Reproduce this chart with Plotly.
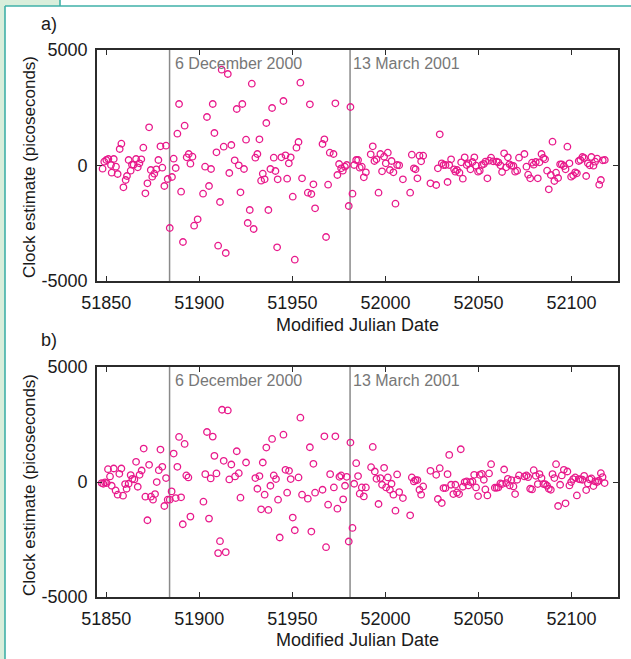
import plotly.graph_objects as go

# --- data: clock estimates (ps) versus Modified Julian Date ---
mjd_a = [51848.0, 51848.9, 51850.0, 51851.1, 51852.5, 51852.9, 51854.0, 51855.2, 51856.1, 51857.2,
         51858.1, 51859.2, 51860.4, 51861.1, 51862.0, 51863.1, 51863.8, 51864.7, 51866.0, 51866.9,
         51867.8, 51868.8, 51869.9, 51871.0, 51872.1, 51873.0, 51873.9, 51874.7, 51875.8, 51876.9,
         51878.0, 51879.1, 51880.1, 51881.2, 51882.1, 51883.0, 51884.1, 51885.3, 51886.2, 51887.3,
         51888.2, 51889.1, 51890.2, 51891.2, 51892.1, 51893.2, 51894.3, 51895.2, 51896.3, 51897.2,
         51899.1, 51902.0, 51903.1, 51904.1, 51905.2, 51906.3, 51907.2, 51908.1, 51909.2, 51910.1,
         51911.1, 51912.0, 51913.1, 51914.2, 51915.3, 51916.1, 51917.2, 51919.0, 51920.1, 51921.2,
         51922.1, 51923.1, 51924.0, 51925.1, 51926.0, 51927.1, 51928.2, 51929.2, 51930.1, 51931.2,
         51932.3, 51933.2, 51934.1, 51935.1, 51936.0, 51937.1, 51938.2, 51939.1, 51940.0, 51940.9,
         51941.8, 51942.1, 51944.1, 51945.2, 51946.3, 51947.2, 51948.1, 51949.1, 51950.2, 51951.3,
         51952.2, 51953.3, 51954.3, 51955.2, 51958.3, 51959.4, 51960.2, 51961.3, 51962.2, 51966.2,
         51967.2, 51968.1, 51969.2, 51970.1, 51972.1, 51973.1, 51974.2, 51975.1, 51976.2, 51977.1,
         51978.2, 51979.2, 51980.3, 51981.2, 51982.3, 51983.2, 51984.3, 51985.3, 51986.2, 51987.3,
         51988.4, 51989.5, 51992.1, 51993.2, 51994.1, 51995.2, 51996.3, 51997.3, 51998.2, 51999.3,
         52000.2, 52001.3, 52002.4, 52003.3, 52004.3, 52005.4, 52006.3, 52007.4, 52009.4, 52013.3,
         52014.2, 52015.3, 52016.2, 52017.2, 52018.3, 52019.2, 52020.3, 52024.2, 52027.3, 52028.2,
         52029.2, 52030.3, 52031.2, 52032.3, 52033.4, 52034.3, 52035.3, 52036.9, 52037.6, 52038.5,
         52039.8, 52040.7, 52041.6, 52042.6, 52043.7, 52044.6, 52045.7, 52046.8, 52047.8, 52048.7,
         52049.8, 52050.7, 52051.8, 52052.9, 52053.7, 52054.8, 52055.7, 52056.8, 52057.9, 52059.8,
         52060.7, 52061.8, 52062.7, 52063.8, 52064.9, 52065.8, 52066.7, 52067.7, 52068.8, 52069.7,
         52070.8, 52071.8, 52074.7, 52075.8, 52076.7, 52077.8, 52078.8, 52079.7, 52080.8, 52081.9,
         52082.8, 52083.9, 52084.9, 52085.8, 52086.9, 52087.8, 52088.9, 52089.8, 52090.8, 52091.7,
         52092.8, 52093.9, 52094.8, 52095.9, 52096.8, 52097.8, 52098.9, 52099.8, 52100.9, 52102.0,
         52102.9, 52103.9, 52104.8, 52105.9, 52106.8, 52107.9, 52108.8, 52109.8, 52110.7, 52111.8,
         52112.7, 52113.8, 52114.9, 52115.8, 52116.8, 52117.9]
clock_a = [-137, 166, 238, 282, 22, -310, 282, -51, -368, 714,
           945, -945, -628, -455, 238, -224, 36, 36, 282, -79,
           94, 267, 772, -1205, -772, 1652, -195, -483, -353, -166,
           238, 830, -94, -887, 859, -584, -2706, -498, 296, -108,
           1378, 2662, -1133, -3312, 1724, 354, 498, 79, 382, -2605,
           -2330, -1219, -51, 2100, -887, -152, 2662, 1407, 570, -3470,
           -1580, 4149, 815, -3788, 3961, -325, 888, 224, 2446, 7,
           -1162, 2662, -152, 1118, -2489, -1926, 3543, -2749, 339, 498,
           1133, -657, -353, -599, 1840, -1926, -152, 2489, 339, -238,
           -3543, -599, 354, 2792, 440, -570, 94, 354, -1349, -4076,
           772, 1017, 3586, -556, -1176, 2648, -1234, -815, -1854, 931,
           1133, -3095, -830, 556, 498, 2691, -411, 65, -123, -224,
           -51, 22, -1753, 2532, -1219, 22, 238, 238, -94, -51,
           -512, -296, 483, 830, 195, 267, -1176, 498, -253, 382,
           94, 556, -195, 195, -296, -1652, 22, 7, -599, -1176,
           469, -123, -166, -556, 426, 180, 426, -772, -844, -123,
           1349, 94, 22, 22, -714, 22, 267, -166, -267, -195,
           -310, 137, -570, 354, 22, 94, -166, 152, 354, -7,
           -267, -224, 22, 65, 166, -556, 209, 339, 180, 166,
           137, 7, -281, 527, -79, 354, 51, -7, -22, -267,
           -224, 339, 498, -51, -397, -556, 123, 36, 152, -556,
           137, 498, 325, 267, -224, -1032, -411, 1032, -671, -310,
           -541, 51, 51, -22, -166, 815, 94, -483, -426, -296,
           -339, 195, 238, 368, 325, -455, 94, 7, 368, -7,
           166, 296, -830, -628, 224, 238]

mjd_b = [51847.5, 51848.4, 51849.3, 51850.2, 51850.9, 51852.0, 51852.9, 51854.0, 51855.0, 51856.1,
         51857.0, 51858.1, 51859.0, 51860.1, 51860.9, 51862.0, 51863.1, 51864.0, 51865.1, 51866.0,
         51866.9, 51867.9, 51869.0, 51870.1, 51871.0, 51872.1, 51873.0, 51874.0, 51875.1, 51876.2,
         51877.1, 51878.2, 51879.1, 51880.1, 51881.2, 51882.1, 51883.0, 51884.1, 51885.1, 51886.2,
         51887.3, 51888.2, 51889.1, 51890.2, 51891.1, 51892.1, 51893.0, 51894.1, 51895.2, 51902.2,
         51903.2, 51904.1, 51905.2, 51906.1, 51907.2, 51908.1, 51909.2, 51910.1, 51911.1, 51912.2,
         51913.1, 51914.2, 51915.3, 51916.1, 51917.2, 51919.2, 51920.1, 51921.2, 51922.1, 51925.1,
         51930.1, 51931.2, 51932.3, 51933.2, 51934.1, 51935.1, 51936.0, 51937.1, 51938.2, 51939.1,
         51940.0, 51941.2, 51942.3, 51943.2, 51945.2, 51946.3, 51947.2, 51948.2, 51949.1, 51950.2,
         51951.3, 51953.3, 51954.3, 51955.2, 51958.3, 51959.4, 51960.2, 51961.3, 51962.2, 51966.2,
         51967.2, 51968.1, 51969.2, 51970.3, 51972.3, 51973.1, 51974.2, 51975.3, 51976.2, 51977.3,
         51978.3, 51979.2, 51980.3, 51981.2, 51982.3, 51983.2, 51984.3, 51985.3, 51986.2, 51987.3,
         51988.4, 51989.5, 51992.3, 51993.2, 51994.3, 51995.2, 51996.3, 51997.3, 51998.2, 51999.3,
         52000.4, 52001.3, 52002.4, 52003.3, 52004.3, 52005.4, 52006.3, 52007.4, 52009.4, 52013.3,
         52014.2, 52015.3, 52016.2, 52017.2, 52018.3, 52019.2, 52020.3, 52024.2, 52027.3, 52028.2,
         52029.2, 52030.3, 52031.2, 52032.3, 52033.4, 52034.3, 52035.3, 52036.5, 52037.6, 52038.5,
         52039.6, 52040.5, 52041.6, 52042.6, 52043.7, 52044.6, 52045.7, 52046.8, 52047.7, 52048.7,
         52049.8, 52050.7, 52051.8, 52052.9, 52053.7, 52054.8, 52055.7, 52056.8, 52058.8, 52059.8,
         52060.7, 52061.8, 52062.7, 52063.8, 52064.9, 52065.8, 52066.8, 52067.7, 52068.8, 52069.7,
         52070.8, 52071.8, 52074.7, 52075.8, 52076.7, 52077.8, 52078.8, 52079.7, 52080.8, 52081.9,
         52082.8, 52083.9, 52084.9, 52085.8, 52086.9, 52087.8, 52088.9, 52089.8, 52090.8, 52091.7,
         52092.8, 52093.9, 52094.8, 52095.9, 52096.8, 52097.8, 52098.9, 52099.8, 52100.9, 52102.0,
         52102.9, 52103.9, 52104.8, 52105.9, 52106.8, 52107.9, 52108.8, 52109.8, 52110.7, 52111.8,
         52112.7, 52113.8, 52114.7, 52115.8, 52116.7, 52117.8]
clock_b = [-48, -77, -19, -48, 558, 241, -163, 587, -365, -553,
           356, 587, -596, -91, -293, -77, 299, 140, 111, 876,
           -206, 313, 501, 1453, -639, -1664, 746, -639, -769, -524,
           -4, 515, 1410, 659, -1043, 169, -769, -769, -408, 1237,
           -697, 659, 1958, -668, -1837, 1655, 284, 198, -1505, -856,
           342, 2174, -1592, 154, 1973, 1136, 371, -3092, -2573, 3141,
           919, -3049, 3113, 111, 760, 241, 1338, 385, -683, 847,
           169, -293, 256, -1188, 847, -553, 1496, -1216, -163, 1871,
           284, 126, -769, -2414, 2059, 530, -466, 486, 126, -1548,
           -2097, 198, 2795, -553, -726, 1511, -2154, 789, -466, -336,
           1987, -2833, -986, 342, -235, 1987, -1159, 227, 284, -755,
           -163, 227, -2587, 1713, -1996, -77, 818, 256, -509, -235,
           -625, -235, 645, 1525, 457, 140, -957, 169, -120, 616,
           -235, 198, -336, -77, -553, -1245, 328, -437, -697, -1447,
           198, 25, 82, 82, -336, -553, -192, 486, 313, -740,
           602, -914, -264, -264, 342, 1179, -120, -524, -120, -452,
           -524, 1424, -206, -4, 25, -149, -4, 25, 313, -235,
           -611, 313, 356, 97, -322, -582, 371, 775, -250, -250,
           -235, -62, -91, 544, -48, 140, -149, 82, -192, -524,
           97, 284, 241, 284, 212, -293, -322, 515, 270, -91,
           342, 169, -91, -91, -163, -293, -336, 342, 169, 775,
           -1043, -120, 284, 530, -928, 457, -149, -4, 126, 198,
           -582, 126, 111, 97, 270, -351, -62, 111, 154, -178,
           25, -4, 54, 385, 212, -48]

event_mjd = [51884, 51981]
event_labels = ["6 December 2000", "13 March 2001"]
panel_labels = ["a)", "b)"]

x_ticks = [51850, 51900, 51950, 52000, 52050, 52100]
y_ticks = [-5000, 0, 5000]
x_range = [51845, 52125]
y_range = [-5000, 5000]

# --- styling ---
FONT = "Liberation Sans, Arial, Helvetica, sans-serif"
MAGENTA = "#e8198b"
AXIS = "#2b2b2b"
EVENT = "#8a8a8a"
TEAL = "#3fb0a8"

W, H = 631, 659
ML, MR, MT, MB = 97, 13, 50, 62
PW, PH = W - ML - MR, H - MT - MB


def px_x(p):
    return (p - ML) / PW


def px_y(p):
    return (H - MB - p) / PH


dom_a = [px_y(281), 1.0]
dom_b = [0.0, px_y(367)]

fig = go.Figure()
fig.add_trace(go.Scatter(x=mjd_a, y=clock_a, mode="markers", xaxis="x", yaxis="y",
                         marker=dict(symbol="circle-open", size=6.5, color=MAGENTA,
                                     line=dict(width=1.3, color=MAGENTA)),
                         showlegend=False))
fig.add_trace(go.Scatter(x=mjd_b, y=clock_b, mode="markers", xaxis="x2", yaxis="y2",
                         marker=dict(symbol="circle-open", size=6.5, color=MAGENTA,
                                     line=dict(width=1.3, color=MAGENTA)),
                         showlegend=False))

xax = dict(range=x_range, tickmode="array", tickvals=x_ticks,
           ticktext=[str(v) for v in x_ticks], ticks="inside", ticklen=5, tickwidth=1.2,
           tickcolor=AXIS, showline=True, linecolor=AXIS, linewidth=1.6, mirror="ticks",
           showgrid=False, zeroline=False, ticklabelstandoff=5,
           tickfont=dict(family=FONT, size=18, color="#1a1a1a"))
yax = dict(range=y_range, tickmode="array", tickvals=y_ticks,
           ticktext=[str(v) for v in y_ticks], ticks="inside", ticklen=5, tickwidth=1.2,
           tickcolor=AXIS, showline=True, linecolor=AXIS, linewidth=1.6, mirror="ticks",
           showgrid=False, zeroline=False, ticklabelstandoff=4,
           tickfont=dict(family=FONT, size=18, color="#1a1a1a"))

fig.update_layout(
    width=W, height=H,
    margin=dict(l=ML, r=MR, t=MT, b=MB),
    paper_bgcolor="white", plot_bgcolor="white",
    xaxis=dict(xax, domain=[0, 1], anchor="y"),
    yaxis=dict(yax, domain=dom_a, anchor="x"),
    xaxis2=dict(xax, domain=[0, 1], anchor="y2"),
    yaxis2=dict(yax, domain=dom_b, anchor="x2"),
)

shapes = []
annotations = []
for xa, ya, dom, lab, title_y, xt_y in [("x", "y", dom_a, panel_labels[0], 167, 325),
                                         ("x2", "y2", dom_b, panel_labels[1], 485, 640)]:
    for m, txt, dx in zip(event_mjd, event_labels, [3, 1]):
        shapes.append(dict(type="line", xref=xa, yref=f"{ya} domain", x0=m, x1=m, y0=0, y1=1,
                           line=dict(color=EVENT, width=1.5), layer="below"))
        annotations.append(dict(x=m, xref=xa, y=1, yref=f"{ya} domain", text=txt,
                                showarrow=False, xanchor="left", yanchor="top",
                                xshift=dx, yshift=-3,
                                font=dict(family=FONT, size=16, color="#777777")))
    annotations.append(dict(x=px_x(49), y=dom[1] + (MT - 24 if ya == "y" else 0) / PH,
                            xref="paper", yref="paper", text=lab, showarrow=False,
                            xanchor="center", yanchor="middle",
                            font=dict(family=FONT, size=18, color="#1a1a1a")))
    annotations.append(dict(x=px_x(29), y=px_y(title_y), xref="paper", yref="paper",
                            text="Clock estimate (picoseconds)", textangle=-90,
                            showarrow=False, xanchor="center", yanchor="middle",
                            font=dict(family=FONT, size=17, color="#1a1a1a")))
    annotations.append(dict(x=px_x(357), y=px_y(xt_y), xref="paper", yref="paper",
                            text="Modified Julian Date", showarrow=False,
                            xanchor="center", yanchor="middle",
                            font=dict(family=FONT, size=18, color="#1a1a1a")))

# fix "b)" position (panel label above the lower axes)
annotations[-3]["y"] = px_y(340)

# page decoration: pale green strip and teal frame around the figure
shapes += [
    dict(type="rect", xref="paper", yref="paper", x0=px_x(0), x1=px_x(5), y0=px_y(H + 5),
         y1=px_y(-5), fillcolor="#d9eedb", line=dict(width=0), layer="below"),
    dict(type="rect", xref="paper", yref="paper", x0=px_x(0), x1=px_x(60), y0=px_y(6),
         y1=px_y(-5), fillcolor="#d9eedb", line=dict(width=0), layer="below"),
    dict(type="line", xref="paper", yref="paper", x0=px_x(5), x1=px_x(W + 5), y0=px_y(6),
         y1=px_y(6), line=dict(color=TEAL, width=1.6)),
    dict(type="line", xref="paper", yref="paper", x0=px_x(5), x1=px_x(5), y0=px_y(6),
         y1=px_y(H + 5), line=dict(color=TEAL, width=1.6)),
    dict(type="line", xref="paper", yref="paper", x0=px_x(60), x1=px_x(60), y0=px_y(-5),
         y1=px_y(6), line=dict(color=TEAL, width=1.6)),
]

fig.update_layout(shapes=shapes, annotations=annotations)
fig.write_html("out.html")
